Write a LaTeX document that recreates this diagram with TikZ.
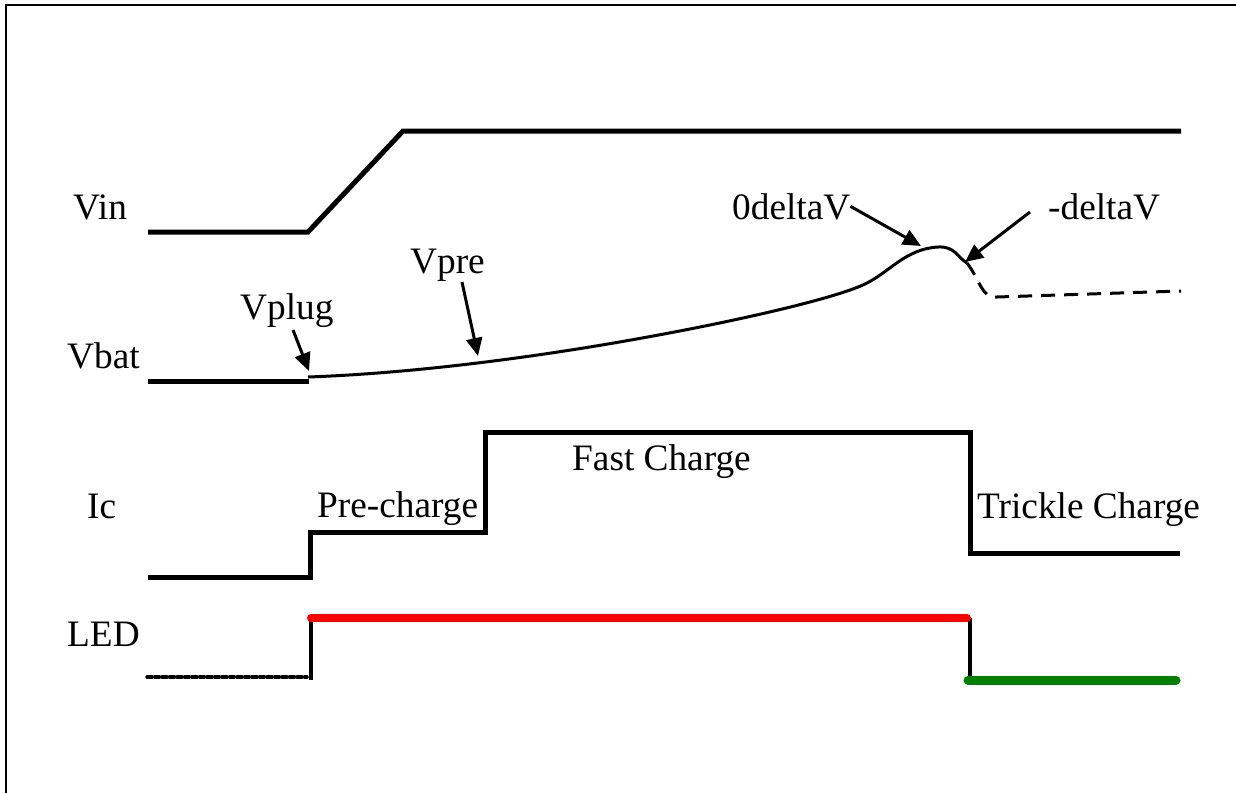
\documentclass[tikz,border=0pt]{standalone}
\usepackage{fontspec}
\setmainfont{Liberation Serif}
\usetikzlibrary{arrows.meta}
\definecolor{ledgreen}{RGB}{0,128,0}
\definecolor{ledred}{RGB}{255,0,0}
\begin{document}
\begin{tikzpicture}[x=1pt,y=-1pt, font=\fontsize{37.3}{40}\selectfont,
  lbl/.style={inner sep=0pt, anchor=base west},
  sig/.style={line width=5pt},
  vcurve/.style={line width=3pt},
  pointer/.style={line width=3pt, -{Triangle[length=18pt,width=16pt]}},
]
\useasboundingbox (0,0) rectangle (1236,793);
\draw[line width=2pt] (6,793) -- (6,5) -- (1236,5);

% labels
\node[lbl] (vin) at (73,219) {Vin};
\node[lbl] (vbat) at (67,368) {Vbat};
\node[lbl] (ic) at (87,518) {Ic};
\node[lbl] (led) at (67,646) {LED};
\node[lbl] (pre) at (317,517) {Pre-charge};
\node[lbl] (fast) at (572,470) {Fast Charge};
\node[lbl] (trickle) at (977,518) {Trickle Charge};
\node[lbl] (vplug) at (240,319) {Vplug};
\node[lbl] (vpre) at (410,273) {Vpre};
\node[lbl] (zdv) at (732,219) {0deltaV};
\node[lbl] (mdv) at (1048,219) {-deltaV};

% Vin
\draw[sig] (148,232) -- (308,232) -- (403,131) -- (1181,131);
% Vbat
\draw[sig] (148,381) -- (309,381);
\draw[vcurve] (308,377) .. controls (420,373) and (560,355) .. (700,327)
  .. controls (770,313) and (840,296) .. (865,284)
  .. controls (890,272) and (905,249) .. (938,247)
  .. controls (955,246) and (958,258) .. (967,263);
\draw[vcurve, dash pattern=on 14pt off 9pt] (967,263) .. controls (980,280) and (982,299) .. (997,297) -- (1181,291);
% Ic
\draw[sig] (148,577) -- (310,577) -- (310,532) -- (485,532) -- (485,432) -- (970,432) -- (970,553) -- (1180,553);
% LED
\draw[line width=3.5pt, dash pattern=on 5pt off 2.5pt, line cap=round] (147,677) -- (307,677);
\draw[line width=4.5pt] (311,680) -- (311,618);
\draw[line width=4.5pt] (970,618) -- (970,680);
\draw[ledred, line width=8pt, line cap=round] (311,618) -- (967,618);
\draw[ledgreen, line width=9pt, line cap=round] (968,680) -- (1176,680);

% pointers
\coordinate (plugtail) at (293,330);
\coordinate (plugtip) at (309,371);
\coordinate (pretail) at (462,282);
\coordinate (pretip) at (478,356);
\coordinate (zdvtip) at (921,246);
\coordinate (mdvtail) at (1030,212);
\coordinate (mdvtip) at (965,262);
\draw[pointer] (plugtail) -- (plugtip);
\draw[pointer] (pretail) -- (pretip);
\draw[pointer] (zdv.east) -- (zdvtip);
\draw[pointer] (mdvtail) -- (mdvtip);
\end{tikzpicture}
\end{document}
